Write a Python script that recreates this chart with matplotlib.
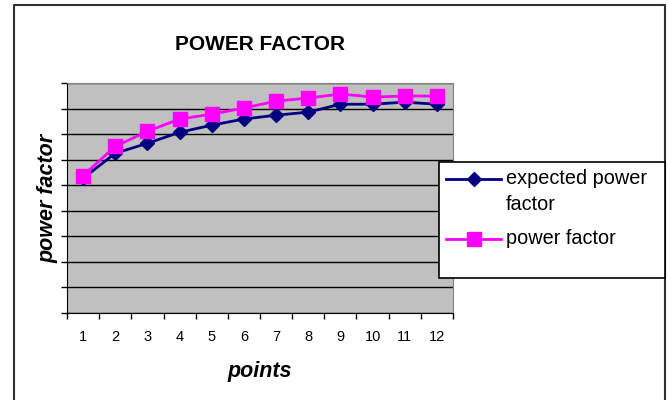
import numpy as np
import matplotlib.pyplot as plt
from matplotlib.patches import Rectangle
from matplotlib.lines import Line2D

plt.rcParams['font.family'] = ['Liberation Sans', 'DejaVu Sans']

points = list(range(1, 13))
expected_pf = [0.627, 0.725, 0.764, 0.807, 0.835, 0.859, 0.874, 0.886, 0.917, 0.917, 0.925, 0.917]
measured_pf = [0.638, 0.752, 0.811, 0.859, 0.878, 0.902, 0.929, 0.941, 0.957, 0.945, 0.949, 0.949]
labels = ['expected power\nfactor', 'power factor']
colors = ['#000080', '#FF00FF']
markers = ['D', 's']
msizes = [7, 9.5]

W, H = 668, 400
fig = plt.figure(figsize=(W/100, H/100), dpi=100)

def fx(px):
    return px / W

def fy(py):
    return 1 - py / H

# outer chart border (Excel chart area)
fig.add_artist(Line2D([fx(14), fx(14), fx(665), fx(665)], [0, fy(5), fy(5), 0],
                      transform=fig.transFigure, color='#303030', lw=1.5))

ax = fig.add_axes([fx(67), fy(313), (453-67)/W, (313-83)/H])
ax.set_facecolor('#C0C0C0')

x = np.arange(len(points))
for vals, c, m, ms in zip([expected_pf, measured_pf], colors, markers, msizes):
    ax.plot(x, vals, color=c, lw=2, marker=m, markersize=ms, zorder=3)

ax.set_xlim(-0.5, len(points) - 0.5)
ax.set_ylim(0.1, 1.0)
ax.set_yticks(np.arange(0.1, 1.01, 0.1))
ax.set_yticklabels([])
ax.yaxis.grid(True, color='black', lw=1)
ax.set_axisbelow(True)

ax.set_xticks(x)
ax.set_xticklabels([str(p) for p in points], fontsize=10.5)
ax.set_xticks(np.arange(-0.5, len(points), 1), minor=True)
ax.tick_params(axis='x', which='major', length=0, pad=12)
ax.tick_params(axis='x', which='minor', length=4, width=1, direction='out')
ax.tick_params(axis='y', length=4, width=1, direction='out')

ax.spines['left'].set_color('black')
ax.spines['bottom'].set_color('black')
ax.spines['top'].set_color('#808080')
ax.spines['right'].set_color('#808080')

ax.set_xlabel('points', fontsize=15.5, fontweight='bold', style='italic', labelpad=12.5)
ax.set_ylabel('power factor', fontsize=15.5, fontweight='bold', style='italic', labelpad=-1)
ax.set_title('POWER FACTOR', fontsize=15, fontweight='bold', pad=24)

# legend box, drawn by hand like Excel's
fig.add_artist(Rectangle((fx(439), fy(278)), (665-439)/W, (278-162)/H,
                         transform=fig.transFigure, facecolor='white', edgecolor='black',
                         lw=1.2, zorder=5))
entry_y = [179, 239]
for lab, c, m, ms, ey in zip(labels, colors, markers, msizes, entry_y):
    fig.add_artist(Line2D([fx(446), fx(501)], [fy(ey), fy(ey)], transform=fig.transFigure,
                          color=c, lw=2, zorder=6))
    fig.add_artist(Line2D([fx(473.5)], [fy(ey)], transform=fig.transFigure, color=c,
                          marker=m, markersize=ms, zorder=7))
    fig.text(fx(506), fy(ey - 10), lab, fontsize=14.3, va='top', ha='left',
             linespacing=1.5, zorder=7)

fig.savefig('out.png', dpi=100)
